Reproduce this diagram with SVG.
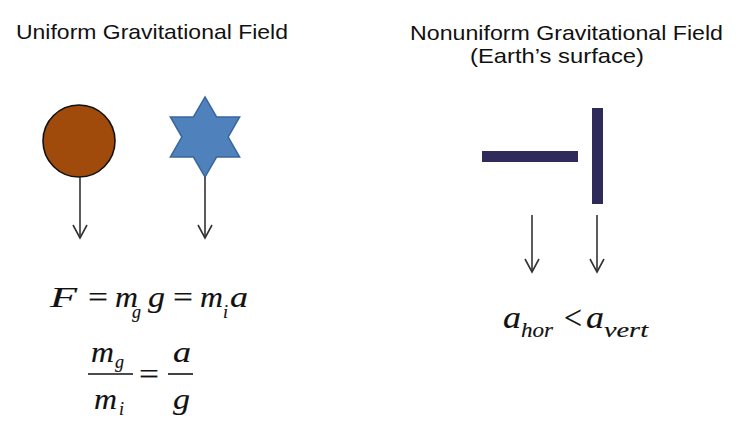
<svg xmlns="http://www.w3.org/2000/svg" width="750" height="438" viewBox="0 0 750 438">
<defs>
<style>
.title{font-family:"Liberation Sans",Arial,sans-serif;font-size:21px;fill:#111;}
.math{font-family:"Liberation Serif","Times New Roman",serif;font-style:italic;fill:#111;stroke:#111;stroke-width:0.15;}
.op{font-family:"Liberation Serif","Times New Roman",serif;font-style:normal;fill:#111;stroke:#111;stroke-width:0.15;}
.conn{stroke:#333;stroke-width:1.6;fill:none;}
.bar{fill:#2e2b5b;}
.frac{stroke:#111;stroke-width:1.6;}
</style>
<marker id="vhead" markerUnits="userSpaceOnUse" markerWidth="30" markerHeight="30" viewBox="-15 -15 30 30" refX="0" refY="0" orient="auto" overflow="visible">
<path d="M-13,-7 L0,0 L-13,7" fill="none" stroke="#333" stroke-width="1.6"/>
</marker>
</defs>
<rect width="750" height="438" fill="#ffffff"/>

<g id="title-uniform">
<text class="title" x="16" y="39" textLength="272" lengthAdjust="spacingAndGlyphs">Uniform Gravitational Field</text>
</g>
<g id="title-nonuniform">
<text class="title" x="410" y="40" textLength="313" lengthAdjust="spacingAndGlyphs">Nonuniform Gravitational Field</text>
<text class="title" x="470" y="63" textLength="174" lengthAdjust="spacingAndGlyphs">(Earth’s surface)</text>
</g>

<g id="circle-node">
<circle cx="79" cy="141" r="36" fill="#a04a0b" stroke="#111" stroke-width="1.6"/>
</g>
<g id="star-node">
<polygon points="205,97 216.55,117 239.64,117 228.09,137 239.64,157 216.55,157 205,177 193.45,157 170.36,157 181.91,137 170.36,117 193.45,117" fill="#4f81bd" stroke="#3a679c" stroke-width="1.5"/>
</g>
<g id="horizontal-bar">
<rect class="bar" x="482" y="151" width="96" height="11"/>
</g>
<g id="vertical-bar">
<rect class="bar" x="592" y="108" width="11" height="96"/>
</g>

<g id="connectors">
<line class="conn" x1="80" y1="177" x2="80" y2="238" marker-end="url(#vhead)"/>
<line class="conn" x1="205" y1="177" x2="205" y2="238" marker-end="url(#vhead)"/>
<line class="conn" x1="532" y1="215" x2="532" y2="272" marker-end="url(#vhead)"/>
<line class="conn" x1="597" y1="215" x2="597" y2="272" marker-end="url(#vhead)"/>
</g>

<g id="equation-force">
<text class="math" font-size="30" x="50" y="307" textLength="27" lengthAdjust="spacingAndGlyphs">F</text>
<text class="op" font-size="30" x="88" y="307" textLength="20" lengthAdjust="spacingAndGlyphs">=</text>
<text class="math" font-size="30" x="115" y="307" textLength="23" lengthAdjust="spacingAndGlyphs">m</text>
<text class="math" font-size="18" x="132" y="318">g</text>
<text class="math" font-size="30" x="148" y="307" textLength="17" lengthAdjust="spacingAndGlyphs">g</text>
<text class="op" font-size="30" x="173" y="307" textLength="20" lengthAdjust="spacingAndGlyphs">=</text>
<text class="math" font-size="30" x="200" y="307" textLength="23" lengthAdjust="spacingAndGlyphs">m</text>
<text class="math" font-size="18" x="223" y="318">i</text>
<text class="math" font-size="30" x="230" y="307" textLength="18" lengthAdjust="spacingAndGlyphs">a</text>
</g>

<g id="equation-ratio">
<text class="math" font-size="30" x="91" y="362" textLength="23" lengthAdjust="spacingAndGlyphs">m</text>
<text class="math" font-size="18" x="115" y="368">g</text>
<line class="frac" x1="88" y1="374" x2="133" y2="374"/>
<text class="math" font-size="30" x="94" y="409" textLength="23" lengthAdjust="spacingAndGlyphs">m</text>
<text class="math" font-size="18" x="119" y="415">i</text>
<text class="op" font-size="30" x="139" y="384" textLength="20" lengthAdjust="spacingAndGlyphs">=</text>
<text class="math" font-size="30" x="173" y="362" textLength="18" lengthAdjust="spacingAndGlyphs">a</text>
<line class="frac" x1="168" y1="374" x2="193" y2="374"/>
<text class="math" font-size="30" x="173" y="409" textLength="17" lengthAdjust="spacingAndGlyphs">g</text>
</g>

<g id="equation-accel">
<text class="math" font-size="31" x="503" y="328" textLength="18" lengthAdjust="spacingAndGlyphs">a</text>
<text class="math" font-size="22" x="521" y="337" textLength="32" lengthAdjust="spacingAndGlyphs">hor</text>
<text class="op" font-size="34" x="564" y="329" textLength="18" lengthAdjust="spacingAndGlyphs">&lt;</text>
<text class="math" font-size="31" x="586" y="328" textLength="18" lengthAdjust="spacingAndGlyphs">a</text>
<text class="math" font-size="22" x="604" y="337" textLength="44" lengthAdjust="spacingAndGlyphs">vert</text>
</g>
</svg>
